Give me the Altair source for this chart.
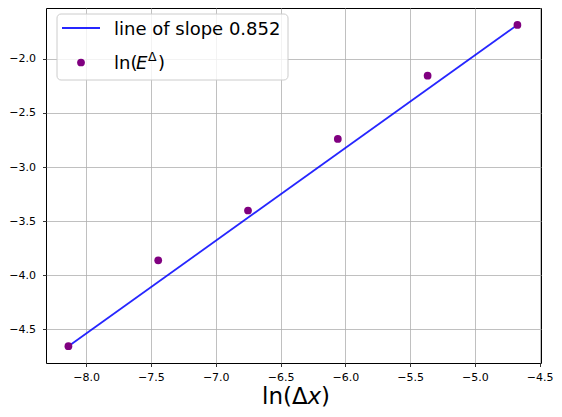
import altair as alt
import pandas as pd

# data
ln_dx = [-8.137, -7.444, -6.751, -6.058, -5.365, -4.672]
ln_err = [-4.655, -3.861, -3.401, -2.740, -2.155, -1.686]
line_x = [-8.137, -4.672]
line_y = [-4.655, -1.686]
x_ticks = [-8.0, -7.5, -7.0, -6.5, -6.0, -5.5, -5.0, -4.5]
y_ticks = [-4.5, -4.0, -3.5, -3.0, -2.5, -2.0]
slope_label = "line of slope 0.852"

pts = pd.DataFrame({"x": ln_dx, "y": ln_err})
ln = pd.DataFrame({"x": line_x, "y": line_y})
one = pd.DataFrame({"a": [0]})

FONT = "DejaVu Sans"
minus_expr = "replace(format(datum.value, '.1f'), '-', '\u2212')"

xscale = alt.Scale(domain=[-8.31, -4.49], nice=False, zero=False)
yscale = alt.Scale(domain=[-4.81, -1.53], nice=False, zero=False)

xaxis = alt.Axis(values=x_ticks, labelExpr=minus_expr, title=None, labelPadding=5)
yaxis = alt.Axis(values=y_ticks, labelExpr=minus_expr, title=None, labelPadding=7)

line = alt.Chart(ln).mark_line(color="#0000ff", opacity=0.85, strokeWidth=1.8).encode(
    x=alt.X("x:Q", scale=xscale, axis=xaxis),
    y=alt.Y("y:Q", scale=yscale, axis=yaxis),
)
points = alt.Chart(pts).mark_circle(color="#800080", opacity=1, size=60).encode(
    x=alt.X("x:Q", scale=xscale),
    y=alt.Y("y:Q", scale=yscale),
)

base = alt.Chart(one)
# legend box
leg_box = base.mark_rect(cornerRadius=4, fill="white", fillOpacity=0.8,
                         stroke="#cccccc", strokeWidth=1).encode(
    x=alt.value(11), x2=alt.value(242), y=alt.value(6), y2=alt.value(72))
leg_line = base.mark_rule(color="#0000ff", opacity=0.85, strokeWidth=1.8).encode(
    x=alt.value(16), x2=alt.value(54), y=alt.value(20))
leg_dot = base.mark_circle(color="#800080", opacity=1, size=60).encode(
    x=alt.value(35), y=alt.value(54.5))
leg_t1 = base.mark_text(text=slope_label, font=FONT, fontSize=18, align="left",
                        baseline="alphabetic", color="#000").encode(
    x=alt.value(68), y=alt.value(27))
leg_t2a = base.mark_text(text="ln(", font=FONT, fontSize=18, align="left",
                         baseline="alphabetic", color="#000").encode(
    x=alt.value(68), y=alt.value(60.5))
leg_t2b = base.mark_text(text="E", font=FONT, fontSize=18, fontStyle="italic", align="left",
                         baseline="alphabetic", color="#000").encode(
    x=alt.value(90), y=alt.value(60.5))
leg_t2c = base.mark_text(text="Δ", font=FONT, fontSize=12.5, align="left",
                         baseline="alphabetic", color="#000").encode(
    x=alt.value(102), y=alt.value(53))
leg_t2d = base.mark_text(text=")", font=FONT, fontSize=18, align="left",
                         baseline="alphabetic", color="#000").encode(
    x=alt.value(112), y=alt.value(60.5))

# x title ln(Δx) with italic x
TY = 396
tx1 = base.mark_text(text="ln(Δ", font=FONT, fontSize=23, align="left",
                     baseline="alphabetic", color="#000").encode(
    x=alt.value(216), y=alt.value(TY))
tx2 = base.mark_text(text="x", font=FONT, fontSize=23, fontStyle="italic", align="left",
                     baseline="alphabetic", color="#000").encode(
    x=alt.value(261.5), y=alt.value(TY))
tx3 = base.mark_text(text=")", font=FONT, fontSize=23, align="left",
                     baseline="alphabetic", color="#000").encode(
    x=alt.value(275), y=alt.value(TY))

chart = alt.layer(
    line, points, leg_box, leg_line, leg_dot, leg_t1, leg_t2a, leg_t2b, leg_t2c, leg_t2d,
    tx1, tx2, tx3,
).properties(
    width=495, height=355,
    autosize=alt.AutoSizeParams(type="none"),
    padding={"left": 38, "top": 0, "right": 13, "bottom": 46},
).configure_view(
    stroke="#000000", strokeWidth=1,
).configure_axis(
    grid=True, gridColor="#b0b0b0", gridWidth=0.8,
    domain=False, tickColor="#000000", tickSize=3.5, tickWidth=0.8,
    labelFont=FONT, labelFontSize=11, labelColor="#000000",
)

chart.save("out.html", embed_options={"renderer": "svg", "actions": False})
